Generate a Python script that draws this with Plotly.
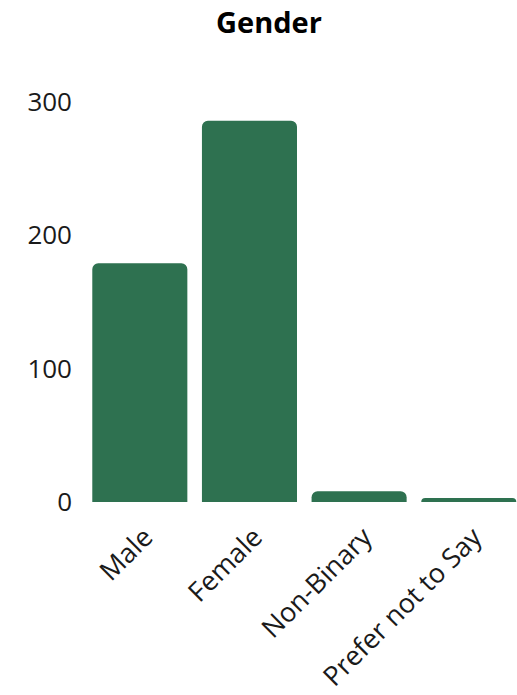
import plotly.graph_objects as go

# Survey responses by gender
categories = ["Male", "Female", "Non-Binary", "Prefer not to Say"]
counts = [179, 286, 8, 3]
y_ticks = [0, 100, 200, 300]

bar_color = "#2E7150"
font_family = "Open Sans, Noto Sans, DejaVu Sans, sans-serif"

fig = go.Figure(
    go.Bar(
        x=categories,
        y=counts,
        marker=dict(color=bar_color, line=dict(width=0)),
        hoverinfo="x+y",
    )
)

fig.update_layout(
    width=517,
    height=695,
    margin=dict(l=85, r=0, t=102, b=193),
    paper_bgcolor="white",
    plot_bgcolor="white",
    bargap=0.133,
    barcornerradius=6,
    showlegend=False,
    font=dict(family=font_family, color="#1a1a1a"),
    title=dict(
        text="<b>Gender</b>",
        x=269 / 517,
        xref="container",
        xanchor="center",
        y=1 - 23 / 695,
        yref="container",
        yanchor="middle",
        font=dict(size=29, color="#000000", family=font_family),
    ),
)

fig.update_xaxes(
    type="category",
    range=[-0.5, 3.44],
    tickangle=-45,
    tickfont=dict(size=27, color="#1a1a1a"),
    showgrid=False,
    showline=False,
    zeroline=False,
    ticks="",
    ticklabelstandoff=13,
    ticklabelshift=5,
)

fig.update_yaxes(
    range=[0, 300],
    tickvals=y_ticks,
    ticktext=[str(v) for v in y_ticks],
    tickfont=dict(size=26, color="#1a1a1a"),
    showgrid=False,
    showline=False,
    zeroline=False,
    ticks="",
    ticklabelstandoff=12,
)

fig.write_html("out.html")
